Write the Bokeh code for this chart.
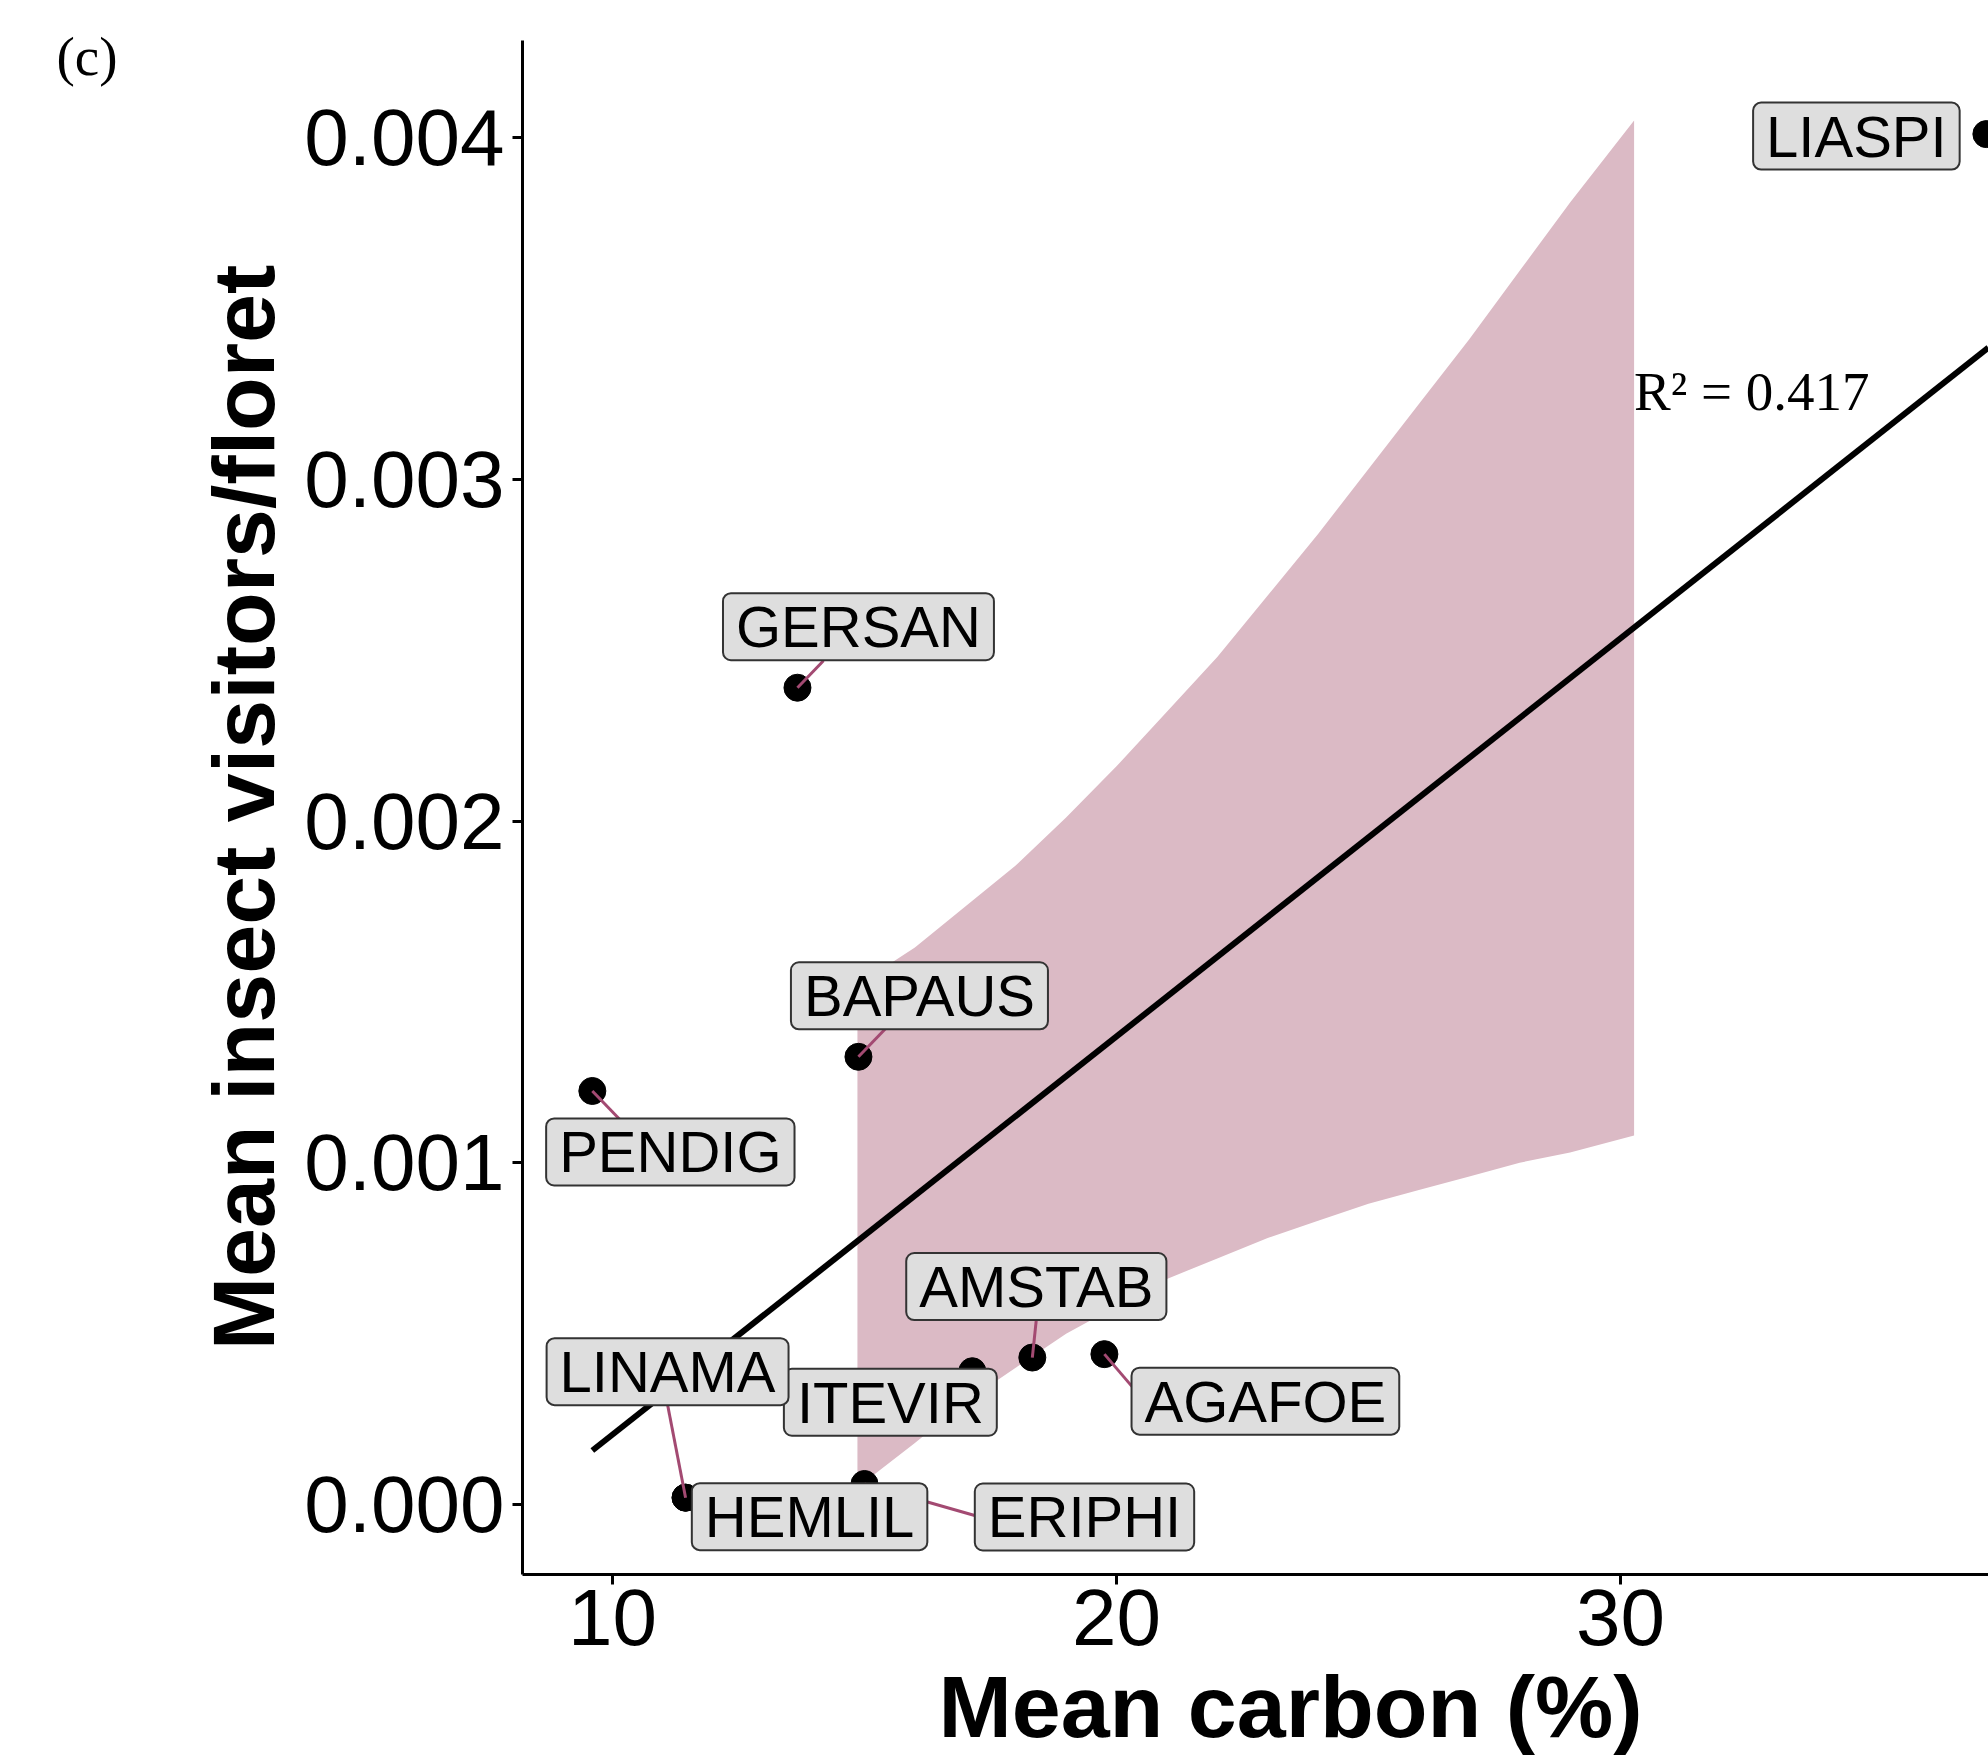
import math
from bokeh.plotting import figure
from bokeh.models import Range1d, FixedTicker, NumeralTickFormatter, Label, ColumnDataSource
from bokeh.embed import file_html
from bokeh.resources import INLINE
from bokeh.core.properties import value

# ---------------- data ----------------
species = ["LIASPI", "GERSAN", "BAPAUS", "PENDIG", "AMSTAB",
           "AGAFOE", "ITEVIR", "LINAMA", "HEMLIL", "ERIPHI"]
carbon = [37.26, 13.67, 14.88, 9.60, 18.33, 19.76, 17.14, 11.45, 11.45, 15.00]
visitors = [0.00401, 0.00239, 0.00131, 0.00121, 0.00043,
            0.00044, 0.00039, 0.00002, 0.00002, 0.00006]

fit_x = [9.60, 37.30]
fit_y = [0.000158, 0.003385]

band_x = [14.86, 16, 17, 18, 19, 20, 21, 22, 23, 24, 25, 26, 27, 28, 29, 30.27]
band_upper = [0.00152, 0.00163, 0.00175, 0.00187, 0.00201, 0.00216, 0.00232, 0.00248,
              0.00266, 0.00284, 0.00303, 0.00322, 0.00341, 0.00361, 0.00381, 0.00405]
band_lower = [0.00005, 0.00018, 0.00030, 0.00040, 0.00050, 0.00058, 0.00066, 0.00072,
              0.00078, 0.00083, 0.00088, 0.00092, 0.00096, 0.00100, 0.00103, 0.00108]

r2_text = "R\u00b2 = 0.417"
r2_x = 30.27
r2_y = 0.003257

x_ticks = [10, 20, 30]
y_ticks = [0.000, 0.001, 0.002, 0.003, 0.004]

x_title = "Mean carbon (%)"
y_title = "Mean insect visitors/floret"
panel_tag = "(c)"

# ---------------- layout ----------------
label_dx = [-130, 61, 61, 78, 4, 161, -82, -18, 124, 220]
label_dy = [2, -61, -61, 61, -71, 47, 31, -126, 19, 33]
seg_dx = [None, 26, 27, 27, 4, 29, None, -18, None, 112]
seg_dy = [None, -27, -28, 28, -38, 34, None, -93, None, 32]

W, H = 1988, 1755
# visible data window of the whole canvas
X_START, X_END = -2.1429, 37.302
Y_START, Y_END = -0.00073446, 0.0044009
# where the axes sit (panel edges)
AX_X0, AX_X1 = 8.214, 38.56
AX_Y0, AX_Y1 = -0.000205, 0.004284
XPX = (X_END - X_START) / W
YPX = (Y_END - Y_START) / H

SANS = "Liberation Sans"
SERIF = "Liberation Serif"

p = figure(frame_width=W, frame_height=H,
           x_range=Range1d(X_START, X_END), y_range=Range1d(Y_START, Y_END),
           output_backend="svg", toolbar_location=None,
           min_border_left=0, min_border_right=0, min_border_top=0, min_border_bottom=0)

p.grid.visible = False
p.outline_line_color = None
p.background_fill_color = "white"
p.border_fill_color = "white"

for ax in (p.xaxis[0], p.yaxis[0]):
    ax.axis_line_width = 3
    ax.axis_line_color = "black"
    ax.major_tick_line_width = 3
    ax.major_tick_line_color = "black"
    ax.major_tick_out = 10
    ax.major_tick_in = 0
    ax.minor_tick_out = 0
    ax.minor_tick_in = 0
    ax.major_label_text_font = SANS
    ax.major_label_text_font_size = "80px"
    ax.major_label_text_color = "black"

p.xaxis.fixed_location = AX_Y0
p.yaxis.fixed_location = AX_X0
p.xaxis.bounds = (AX_X0, AX_X1)
p.yaxis.bounds = (AX_Y0, AX_Y1)
p.xaxis.ticker = FixedTicker(ticks=x_ticks)
p.yaxis.ticker = FixedTicker(ticks=y_ticks)
p.yaxis.formatter = NumeralTickFormatter(format="0.000")
p.xaxis.major_label_standoff = 5
p.yaxis.major_label_standoff = 8

p.yaxis.axis_label = y_title
p.yaxis.axis_label_text_font = SANS
p.yaxis.axis_label_text_font_size = "88px"
p.yaxis.axis_label_text_font_style = "bold"
p.yaxis.axis_label_text_color = "black"
p.yaxis.axis_label_standoff = 8

# confidence band and fit
p.varea(x=band_x, y1=band_lower, y2=band_upper, fill_color="#DBBAC5", fill_alpha=1.0)
p.line(x=fit_x, y=fit_y, line_color="black", line_width=6)

# points
p.scatter(x=carbon, y=visitors, size=27, fill_color="black", line_color="black")

# segments (point -> label box edge)
sx0, sy0, sx1, sy1 = [], [], [], []
for cx, vy, dx, dy in zip(carbon, visitors, seg_dx, seg_dy):
    if dx is None:
        continue
    sx0.append(cx)
    sy0.append(vy)
    sx1.append(cx + dx * XPX)
    sy1.append(vy - dy * YPX)
p.segment(x0=sx0, y0=sy0, x1=sx1, y1=sy1, line_color="#A34A72", line_width=3)

# labels
lab_src = ColumnDataSource(dict(x=carbon, y=visitors, t=species, dx=label_dx, dy=label_dy))
p.text(x="x", y="y", text="t", source=lab_src, x_offset="dx", y_offset="dy",
       text_align="center", text_baseline="middle",
       text_font=value(SANS), text_font_size="58px", text_color="black",
       background_fill_color="#DEDEDE", border_line_color="#333333", border_line_width=2,
       padding=dict(left=13, right=13, top=1, bottom=1), border_radius=8)

# R^2 annotation
p.text(x=[r2_x], y=[r2_y], text=[r2_text], text_align="left", text_baseline="alphabetic",
       text_font=value(SERIF), text_font_size="55px", text_color="black")

# panel tag and x-axis title
p.add_layout(Label(x=-1.032, y=0.004237, text=panel_tag,
                   text_font=SERIF, text_font_size="55px", text_color="black",
                   text_baseline="alphabetic", text_align="left"))
p.add_layout(Label(x=23.452, y=-0.000590, text=x_title,
                   text_font=SANS, text_font_size="88px", text_font_style="bold",
                   text_color="black", text_align="center", text_baseline="alphabetic"))

open("out.html", "w").write(file_html(p, INLINE))
